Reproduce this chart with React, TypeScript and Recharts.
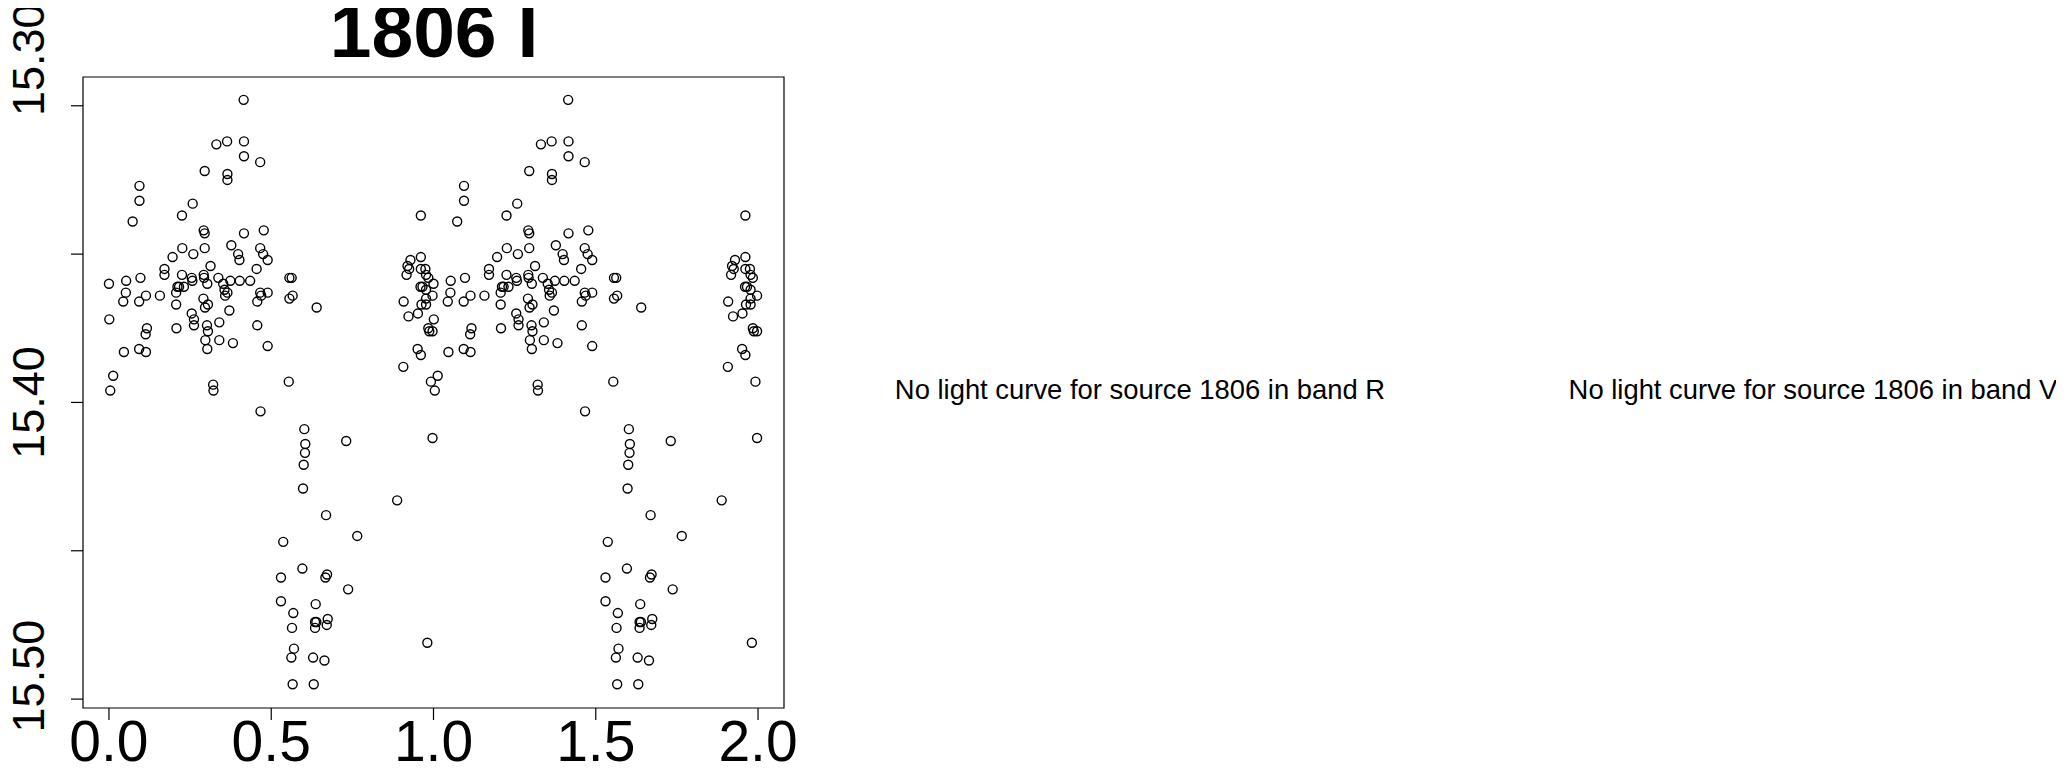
import React from 'react';
import { ScatterChart, Scatter, XAxis, YAxis, ReferenceArea } from 'recharts';

// Phase-folded light curve of source 1806, band I (one cycle; plotted twice, 0-1 and 1-2)
const phases: number[] = [
  0.415, 0.331, 0.364, 0.416, 0.416, 0.466, 0.295, 0.365, 0.365, 0.094,
  0.094, 0.073, 0.258, 0.225, 0.292, 0.295, 0.416, 0.477, 0.226, 0.295,
  0.260, 0.196, 0.377, 0.398, 0.402, 0.466, 0.475, 0.489, 0.313, 0.455,
  0.171, 0.171, 0.000, 0.053, 0.097, 0.225, 0.255, 0.257, 0.292, 0.293,
  0.303, 0.337, 0.374, 0.403, 0.435, 0.352, 0.356, 0.365, 0.358, 0.211,
  0.216, 0.231, 0.207, 0.207, 0.052, 0.044, 0.093, 0.114, 0.157, 0.291,
  0.305, 0.296, 0.466, 0.489, 0.469, 0.457, 0.371, 0.001, 0.255, 0.262,
  0.262, 0.208, 0.117, 0.113, 0.302, 0.305, 0.340, 0.457, 0.297, 0.303,
  0.340, 0.382, 0.489, 0.046, 0.093, 0.114, 0.013, 0.004, 0.321, 0.322,
  0.556, 0.563, 0.556, 0.566, 0.640, 0.554,
  0.961, 0.961, 0.929, 0.920, 0.925, 0.917, 0.961, 0.975, 0.977, 0.984,
  0.960, 0.966, 0.977, 0.997, 0.977, 0.963, 0.977, 0.908, 0.952, 0.923,
  0.984, 0.987, 0.997, 0.907, 0.951, 0.961, 0.992,
  0.467, 0.537, 0.530, 0.530, 0.602, 0.605, 0.604, 0.600, 0.598, 0.731,
  0.997, 0.669, 0.888, 0.765, 0.596, 0.672, 0.667, 0.737, 0.637, 0.568,
  0.564, 0.635, 0.639, 0.635, 0.674, 0.671, 0.570, 0.562, 0.629, 0.664,
  0.566, 0.631, 0.981,
];

const mags: number[] = [
  15.298, 15.313, 15.312, 15.312, 15.317, 15.319, 15.322, 15.323, 15.325, 15.327,
  15.332, 15.339, 15.333, 15.337, 15.342, 15.343, 15.343, 15.342, 15.348, 15.348,
  15.350, 15.351, 15.347, 15.350, 15.352, 15.348, 15.350, 15.352, 15.354, 15.355,
  15.355, 15.357, 15.360, 15.359, 15.358, 15.357, 15.358, 15.359, 15.357, 15.358,
  15.360, 15.358, 15.359, 15.359, 15.359, 15.360, 15.362, 15.363, 15.364, 15.361,
  15.361, 15.361, 15.363, 15.367, 15.363, 15.366, 15.366, 15.364, 15.364, 15.365,
  15.367, 15.368, 15.363, 15.363, 15.364, 15.366, 15.369, 15.372, 15.370, 15.372,
  15.374, 15.375, 15.375, 15.377, 15.374, 15.376, 15.373, 15.374, 15.379, 15.382,
  15.379, 15.380, 15.381, 15.383, 15.382, 15.383, 15.391, 15.396, 15.394, 15.396,
  15.358, 15.358, 15.365, 15.364, 15.368, 15.393,
  15.337, 15.351, 15.352, 15.354, 15.355, 15.357, 15.355, 15.355, 15.357, 15.358,
  15.361, 15.361, 15.362, 15.364, 15.365, 15.367, 15.367, 15.366, 15.370, 15.371,
  15.375, 15.376, 15.376, 15.388, 15.382, 15.384, 15.393,
  15.403, 15.447, 15.459, 15.467, 15.409, 15.414, 15.417, 15.421, 15.429, 15.413,
  15.412, 15.438, 15.433, 15.445, 15.456, 15.458, 15.459, 15.463, 15.468, 15.471,
  15.476, 15.474, 15.474, 15.476, 15.473, 15.475, 15.483, 15.486, 15.486, 15.487,
  15.495, 15.495, 15.481,
];

const cycleOffsets: number[] = [0, 1];
const xTicks: number[] = [0, 0.5, 1, 1.5, 2];
const xTickLabels: string[] = ['0.0', '0.5', '1.0', '1.5', '2.0'];
const yTicks: number[] = [15.3, 15.35, 15.4, 15.45, 15.5];
const yTickLabels: string[] = ['15.30', '', '15.40', '', '15.50'];
const titleText = '1806 I';
const sourceId = '1806';
const missingBands: string[] = ['R', 'V'];

// label placement tweaks (pixels along the axis), matching the reference rendering
const yLabelShift: number[] = [-46, 0, 0, 0, -23];

const FONT = '"Liberation Sans", Arial, Helvetica, sans-serif';

const points = cycleOffsets.flatMap((off) =>
  phases.map((p, i) => ({ x: p + off, y: mags[i] }))
);

const X_DOMAIN: [number, number] = [-0.08, 2.08];
const Y_DOMAIN: [number, number] = [15.2903, 15.503];

const PLOT_TOP = 69;
const PLOT_BOTTOM = 700;

const XTick = (props: any) => {
  const { x, payload } = props;
  const idx = xTicks.indexOf(payload.value);
  const label = idx >= 0 ? xTickLabels[idx] : '';
  return (
    <text x={x} y={PLOT_BOTTOM + 53} textAnchor="middle" fontFamily={FONT} fontSize={57} fill="#000">
      {label}
    </text>
  );
};

const YTick = (props: any) => {
  const { y, payload } = props;
  const idx = yTicks.findIndex((t) => Math.abs(t - payload.value) < 1e-9);
  const label = idx >= 0 ? yTickLabels[idx] : '';
  if (!label) return null;
  return (
    <text
      transform={`translate(36, ${y + yLabelShift[idx]}) rotate(-90)`}
      textAnchor="middle"
      fontFamily={FONT}
      fontSize={45}
      fill="#000"
    >
      {label}
    </text>
  );
};

const Ring = (props: any) => {
  const { cx, cy } = props;
  return <circle cx={cx} cy={cy} r={4.5} fill="none" stroke="#000" strokeWidth={1.4} />;
};

export default function App() {
  return (
    <div style={{ position: 'relative', width: 2048, height: 761 }}>
      <style>{'.recharts-surface { overflow: visible; } .recharts-wrapper { overflow: visible; }'}</style>
      <div style={{ position: 'absolute', left: 0, top: 0 }}>
        <ScatterChart
          width={800}
          height={761}
          margin={{ top: PLOT_TOP, right: 24, bottom: 0, left: 0 }}
        >
          <XAxis
            type="number"
            dataKey="x"
            domain={X_DOMAIN}
            allowDataOverflow
            ticks={xTicks}
            height={61}
            tickSize={12}
            axisLine={false}
            tickLine={{ stroke: '#000', strokeWidth: 1.2 }}
            tick={<XTick />}
            interval={0}
          />
          <YAxis
            type="number"
            dataKey="y"
            domain={Y_DOMAIN}
            allowDataOverflow
            reversed
            ticks={yTicks}
            width={75}
            tickSize={12}
            axisLine={false}
            tickLine={{ stroke: '#000', strokeWidth: 1.2 }}
            tick={<YTick />}
            interval={0}
          />
          <ReferenceArea
            x1={X_DOMAIN[0]}
            x2={X_DOMAIN[1]}
            y1={Y_DOMAIN[0]}
            y2={Y_DOMAIN[1]}
            fill="none"
            fillOpacity={0}
            stroke="#000"
            strokeWidth={1.2}
          />
          <Scatter data={points} shape={<Ring />} isAnimationActive={false} />
        </ScatterChart>
      </div>
      <svg
        width={2048}
        height={761}
        style={{ position: 'absolute', left: 0, top: 0, pointerEvents: 'none', overflow: 'visible' }}
      >
        <text x={426} y={49} textAnchor="middle" fontFamily={FONT} fontWeight="bold" fontSize={75} fill="#000">
          {titleText}
        </text>
        {missingBands.map((band, i) => (
          <text
            key={band}
            x={i === 0 ? 1132 : 1805}
            y={391}
            textAnchor="middle"
            fontFamily={FONT}
            fontSize={27.4}
            fill="#000"
          >
            {`No light curve for source ${sourceId} in band ${band}`}
          </text>
        ))}
      </svg>
    </div>
  );
}
